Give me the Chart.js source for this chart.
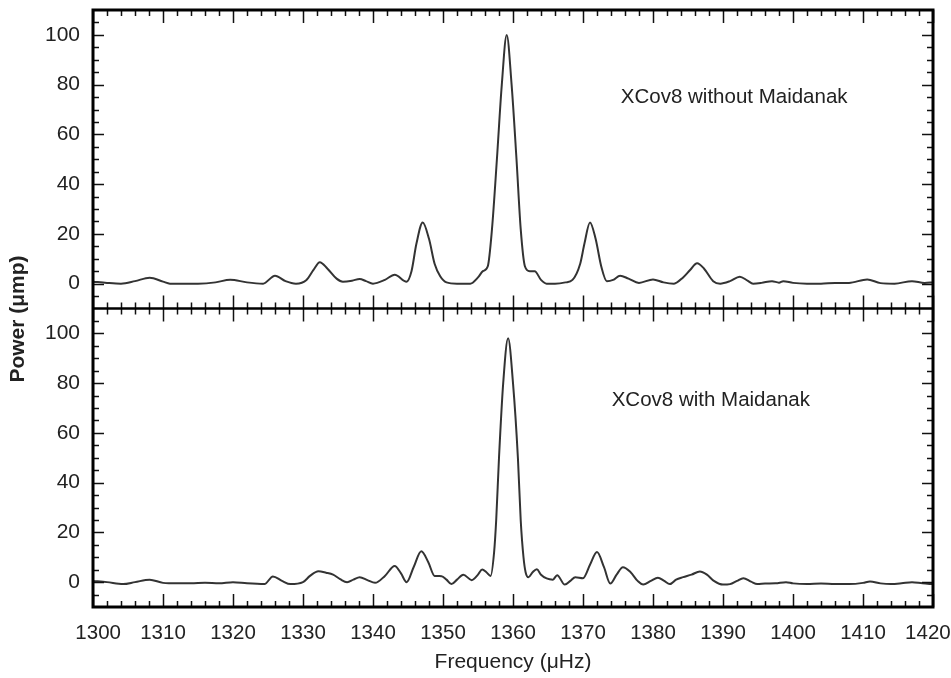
<!DOCTYPE html>
<html>
<head>
<meta charset="utf-8">
<script src="https://cdn.jsdelivr.net/npm/chart.js@4/dist/chart.umd.min.js"></script>
<style>
  body { margin: 0; background: #fff; }
  #wrap { width: 951px; height: 678px; }
</style>
</head>
<body>
<div id="wrap"><canvas id="chartPower" width="951" height="678"></canvas></div>
<script>
// XCov8 periodogram around the 1359 uHz mode
const freqTop = [1300,1302,1304,1306,1308.1,1310,1311,1313,1315,1317.5,1319.6,1322,1324.3,1326,1327.5,1329,1330.5,1331.5,1332.4,1333.5,1334.8,1335.7,1337,1338.1,1339,1340,1341.7,1343.1,1344.8,1345.5,1346.2,1347.1,1348,1348.8,1349.6,1350.5,1352,1353.9,1355,1355.7,1356.4,1357,1357.7,1358.4,1359.1,1359.8,1360.5,1361.1,1361.7,1362.4,1363.1,1364,1364.8,1366,1367.5,1368.5,1369.6,1370.2,1371,1371.8,1372.6,1373.4,1374.3,1375.3,1376.5,1378,1380,1381.5,1383,1384.3,1385.3,1386.3,1387.3,1388.6,1389.6,1391,1392.4,1393.5,1394.3,1395.5,1397,1398,1398.6,1400,1402,1404,1406,1408,1410.6,1412.5,1414.5,1417,1418.8,1420];
const powerTop = [0.8,0.3,0,1,2.4,0.8,0,0,0,0.5,1.6,0.5,0,3.2,1,0,1.5,5.5,8.6,6,2,0.8,1.2,1.9,1,0,1.5,3.6,0.8,5,16,24.6,18,8,3,0.5,0,0,2.5,5,7,22,50,80,100,80,50,22,7,5,5,1.5,0,0,0.5,1.5,8,16,24.6,18,7,1,1.5,3.2,2,0.3,1.7,0.5,0,2.5,5.5,8.2,6,1,0,1,2.8,1.2,0,0.3,1,0.4,1,0.3,0,0,0.3,0.3,1.7,0.2,0,1,0.3,0.5];

const freqBottom = [1300,1302,1304.3,1306,1308.1,1310,1312,1314,1316,1318,1320,1322,1324.5,1325.7,1327,1328.2,1330,1331,1332.2,1333.3,1334.3,1335.3,1336.3,1337.2,1338.1,1339.2,1340.3,1341.7,1343.1,1344,1344.8,1345.8,1346.9,1347.9,1348.8,1349.8,1350.5,1351.2,1352,1352.9,1354.1,1355,1355.6,1356.2,1356.8,1357.3,1357.6,1358,1358.6,1359.3,1360,1360.7,1361.1,1361.5,1361.8,1362.2,1362.8,1363.4,1364,1364.8,1365.7,1366.3,1367.4,1368.2,1368.9,1370,1371,1372,1373,1373.9,1374.8,1375.7,1376.8,1377.8,1378.6,1379.7,1380.7,1381.6,1382.4,1383.3,1384.3,1385.5,1386.7,1387.7,1388.7,1390,1391,1392,1392.9,1394,1394.9,1396,1397.5,1399,1400,1402,1404,1406,1408,1410,1411,1412.5,1414,1415.5,1417,1418.5,1420];
const powerBottom = [0.5,0,-0.8,0,1,-0.3,-0.5,-0.5,-0.3,-0.5,0,-0.5,-0.8,2.3,0.5,-0.8,0,2.5,4.4,3.8,3,1.2,0,1,2,0.8,-0.3,2.5,6.5,3.5,0,6,12.4,8,2.5,2.4,1,-0.8,1,3,0.8,3,5.1,4,2.5,12,25,50,80,98,80,50,25,10,4,2,4,5.2,3,1.5,1,2.8,-1,0.5,2,1.6,7,12.1,6,-0.6,3,6,4,0.5,-1,0.5,1.8,0.5,-0.8,1,2,3,4.3,3,0.5,-1,-0.8,0.5,1.6,0.2,-0.8,-0.6,-0.5,0,-0.5,-0.8,-0.6,-0.8,-0.8,-0.3,0.3,-0.5,-0.8,-0.5,0,-0.5,-0.8];

const yTickValues = [0,20,40,60,80,100];
const panelLabels = ['XCov8 without Maidanak','XCov8 with Maidanak'];
const labelAt = [[1375.4,74.7],[1374.1,72.9]];

const ink = '#222';
const fam = '"Liberation Sans", Arial, sans-serif';
const toPoints = (xs, ys) => xs.map((f,i) => ({x:f, y:ys[i]}));

// frame, inward ticks, y title and panel labels
const framePlugin = {
  id: 'framePlugin',
  afterDraw(chart) {
    const {ctx, chartArea: a, scales} = chart;
    const x = scales.x, yt = scales.yTop, yb = scales.yBottom;
    const mid = yt.bottom;
    ctx.save();
    ctx.strokeStyle = '#111';
    ctx.lineWidth = 1.5;
    ctx.beginPath();
    for (let f = 1300; f <= 1420; f += 2) {
      const px = Math.round(x.getPixelForValue(f)) + 0.5;
      const big = f % 10 === 0;
      const L = big ? 13 : 6;
      ctx.moveTo(px, a.top); ctx.lineTo(px, a.top + L);
      ctx.moveTo(px, mid - L); ctx.lineTo(px, mid + L);
      ctx.moveTo(px, a.bottom); ctx.lineTo(px, a.bottom - L);
    }
    [yt, yb].forEach(s => {
      for (let v = -5; v <= 105; v += 5) {
        const py = Math.round(s.getPixelForValue(v)) + 0.5;
        const L = v % 20 === 0 ? 11 : 6;
        ctx.moveTo(a.left, py); ctx.lineTo(a.left + L, py);
        ctx.moveTo(a.right, py); ctx.lineTo(a.right - L, py);
      }
    });
    ctx.stroke();
    ctx.lineWidth = 3;
    ctx.strokeStyle = '#000';
    ctx.strokeRect(a.left, a.top, a.right - a.left, a.bottom - a.top);
    ctx.lineWidth = 2.5;
    ctx.beginPath();
    ctx.moveTo(a.left, mid); ctx.lineTo(a.right, mid);
    ctx.stroke();

    ctx.fillStyle = ink;
    ctx.font = '20.5px ' + fam;
    ctx.textBaseline = 'middle';
    ctx.textAlign = 'left';
    ctx.fillText(panelLabels[0], x.getPixelForValue(labelAt[0][0]), yt.getPixelForValue(labelAt[0][1]));
    ctx.fillText(panelLabels[1], x.getPixelForValue(labelAt[1][0]), yb.getPixelForValue(labelAt[1][1]));

    ctx.translate(18, 319);
    ctx.rotate(-Math.PI / 2);
    ctx.textAlign = 'center';
    ctx.font = 'bold 21px ' + fam;
    ctx.fillText('Power (\u03bcmp)', 0, 0);
    ctx.restore();
  }
};

const yAxis = (weight) => ({
  type: 'linear', position: 'left', stack: 'power', stackWeight: 1, weight: weight,
  min: -10, max: 110,
  grid: {display: false, drawTicks: false},
  border: {display: false},
  afterBuildTicks: s => { s.ticks = yTickValues.map(v => ({value: v})); },
  afterFit: s => { s.width = 93; s.paddingTop = 0; s.paddingBottom = 0; },
  ticks: {color: ink, padding: 13, font: {size: 21, family: fam}}
});

const chartPower = new Chart(document.getElementById('chartPower'), {
  type: 'line',
  data: {
    datasets: [
      {label: 'without Maidanak', data: toPoints(freqTop, powerTop), yAxisID: 'yTop'},
      {label: 'with Maidanak', data: toPoints(freqBottom, powerBottom), yAxisID: 'yBottom'}
    ]
  },
  options: {
    responsive: false,
    animation: false,
    devicePixelRatio: 1,
    layout: {padding: {top: 10, right: 18, left: 0, bottom: 0}},
    elements: {
      line: {borderColor: '#333', borderWidth: 2, cubicInterpolationMode: 'monotone'},
      point: {radius: 0}
    },
    plugins: {legend: {display: false}, tooltip: {enabled: false}},
    scales: {
      x: {
        type: 'linear', min: 1300, max: 1420,
        grid: {display: false, drawTicks: false},
        border: {display: false},
        afterFit: s => { s.height = 71; s.paddingLeft = 0; s.paddingRight = 0; },
        ticks: {stepSize: 10, color: ink, padding: 14, maxRotation: 0, autoSkip: false,
                // end labels nudged inward a little, as in the original
                callback: (v, i, t) => i === t.length - 1 ? v + '\u2002' : (i === 0 ? '\u2002' + v : String(v)),
                font: {size: 20.5, family: fam}},
        title: {display: true, text: 'Frequency (\u03bcHz)', color: ink, padding: {top: 0, bottom: 3},
                font: {size: 21, family: fam}}
      },
      yBottom: yAxis(1),
      yTop: yAxis(2)
    }
  },
  plugins: [framePlugin]
});
</script>
</body>
</html>
